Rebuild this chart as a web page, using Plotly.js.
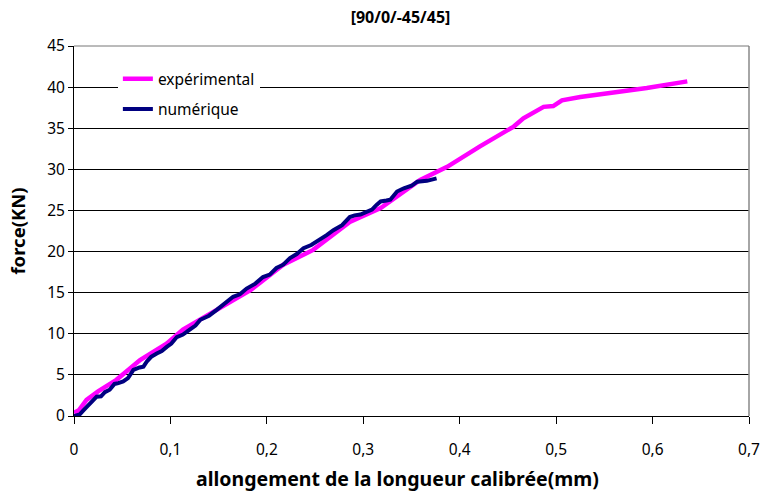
<!DOCTYPE html>
<html>
<head>
<meta charset="utf-8">
<script src="https://cdn.plot.ly/plotly-3.0.1.min.js"></script>
<style>body{margin:0;padding:0;background:#fff;}#chart{width:760px;height:497px;}</style>
</head>
<body>
<div id="chart"></div>
<script>
// experimental series
var expX = [0, 0.005, 0.013, 0.025, 0.044, 0.0685, 0.096, 0.113, 0.148, 0.183, 0.217, 0.248, 0.286, 0.318, 0.359, 0.387, 0.421, 0.456, 0.466, 0.487, 0.497, 0.506, 0.525, 0.560, 0.594, 0.636];
var expY = [0.4, 0.7, 1.95, 3.0, 4.4, 6.8, 8.8, 10.5, 12.9, 15.3, 18.4, 20.2, 23.6, 25.3, 28.7, 30.3, 32.8, 35.2, 36.2, 37.6, 37.7, 38.4, 38.8, 39.3, 39.9, 40.7];
// numerical series
var numX = [0, 0.006, 0.010, 0.016, 0.020, 0.0235, 0.028, 0.032, 0.037, 0.042, 0.046, 0.051, 0.056, 0.0616, 0.068, 0.072, 0.0754, 0.080, 0.0858, 0.091, 0.0962, 0.101, 0.1066, 0.113, 0.12, 0.126, 0.131, 0.140, 0.148, 0.156, 0.165, 0.172, 0.179, 0.188, 0.196, 0.203, 0.210, 0.217, 0.224, 0.231, 0.238, 0.246, 0.255, 0.262, 0.269, 0.278, 0.286, 0.291, 0.297, 0.304, 0.309, 0.314, 0.318, 0.324, 0.328, 0.335, 0.342, 0.350, 0.356, 0.366, 0.376];
var numY = [0, 0.2, 0.7, 1.4, 1.8, 2.35, 2.4, 2.9, 3.2, 3.9, 4.0, 4.2, 4.6, 5.6, 5.9, 6.0, 6.6, 7.2, 7.6, 7.9, 8.4, 8.8, 9.6, 9.9, 10.5, 11.0, 11.7, 12.2, 12.9, 13.6, 14.5, 14.8, 15.5, 16.1, 16.9, 17.2, 18.0, 18.4, 19.2, 19.7, 20.4, 20.8, 21.4, 22.0, 22.6, 23.2, 24.2, 24.4, 24.5, 24.9, 25.1, 25.7, 26.1, 26.2, 26.3, 27.3, 27.7, 28.0, 28.5, 28.6, 28.9];
var seriesNames = ['expérimental', 'numérique'];
var xTicks = [0, 0.1, 0.2, 0.3, 0.4, 0.5, 0.6, 0.7];
var xTickText = ['0', '0,1', '0,2', '0,3', '0,4', '0,5', '0,6', '0,7'];
var yTicks = [0, 5, 10, 15, 20, 25, 30, 35, 40, 45];
var xTitle = 'allongement de la longueur calibrée(mm)';
var yTitle = 'force(KN)';
var chartTitle = '[90/0/-45/45]';

var FONT = 'Noto Sans, Liberation Sans, sans-serif';
var traces = [
  {x: expX, y: expY, name: seriesNames[0], mode: 'lines', legendgroup: 'a',
   line: {color: '#FF00FF', width: 4.5}},
  {x: numX, y: numY, name: seriesNames[1], mode: 'lines', legendgroup: 'b',
   line: {color: '#000080', width: 4}}
];
var layout = {
  width: 760, height: 497,
  margin: {l: 74, r: 11, t: 46, b: 81},
  paper_bgcolor: '#fff', plot_bgcolor: '#fff',
  font: {family: FONT, size: 15, color: '#000'},
  title: {text: '<b>' + chartTitle + '</b>', font: {family: FONT, size: 16, color: '#000'},
          x: 0.527, xanchor: 'center', y: 0.965, yanchor: 'middle'},
  xaxis: {range: [0, 0.7], tickvals: xTicks, ticktext: xTickText,
          showgrid: false, zeroline: false, showline: true, linecolor: '#000', linewidth: 1,
          ticks: 'outside', ticklen: 7, tickcolor: '#000', tickfont: {family: FONT, size: 15.5},
          ticklabelstandoff: 12, ticklabeloverflow: 'allow'},
  yaxis: {range: [0, 45], tickvals: yTicks, showgrid: true, gridcolor: '#000', gridwidth: 1,
          zeroline: false, showline: true, linecolor: '#000', linewidth: 1,
          ticks: 'outside', ticklen: 5, tickcolor: '#000', tickfont: {family: FONT, size: 15.5},
          title: {text: '<b>' + yTitle + '</b>', font: {family: FONT, size: 18.5}, standoff: 16}},
  annotations: [
    {text: '<b>' + xTitle + '</b>', xref: 'paper', yref: 'paper', x: 0.479, y: -0.168,
     xanchor: 'center', yanchor: 'middle', showarrow: false, font: {family: FONT, size: 19.5, color: '#000'}}
  ],
  shapes: [
    {type: 'line', xref: 'paper', yref: 'paper', x0: 1, x1: 1, y0: 0, y1: 1, line: {color: '#888', width: 1.5}},
    {type: 'line', xref: 'paper', yref: 'paper', x0: 0, x1: 1, y0: 1, y1: 1, line: {color: '#777', width: 1}}
  ],
  showlegend: true,
  legend: {x: 0.065, y: 0.956, xanchor: 'left', yanchor: 'top', bgcolor: '#fff',
           borderwidth: 0, font: {family: FONT, size: 15.5}, traceorder: 'grouped', tracegroupgap: 7}
};
Plotly.newPlot('chart', traces, layout, {displayModeBar: false, staticPlot: true});
</script>
</body>
</html>
